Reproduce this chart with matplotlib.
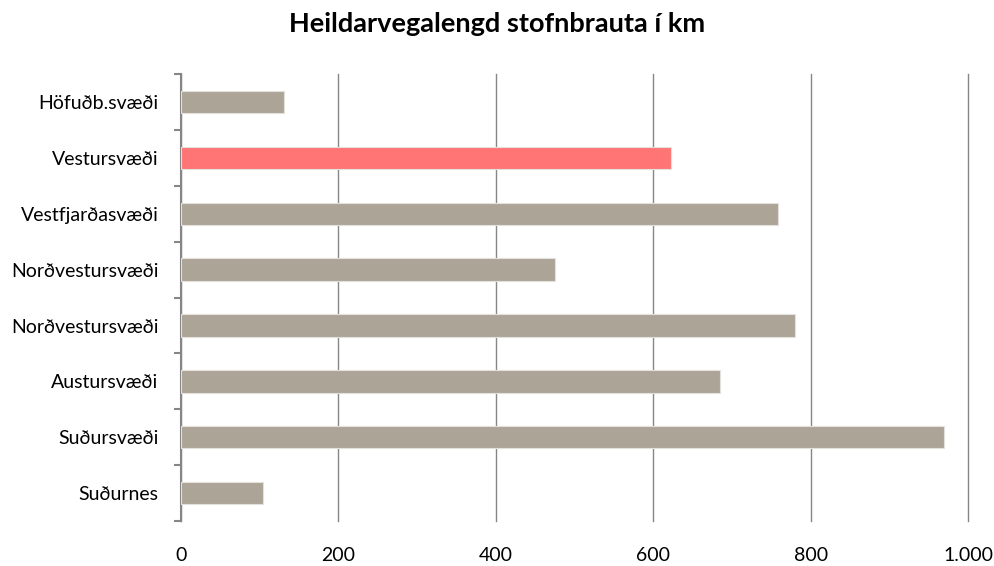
import numpy as np
import matplotlib.pyplot as plt
from matplotlib.ticker import FuncFormatter

plt.rcParams['font.family'] = ['Lato', 'DejaVu Sans']

# Svæði og vegalengdir (km)
svaedi = ['Höfuðb.svæði', 'Vestursvæði', 'Vestfjarðasvæði', 'Norðvestursvæði',
          'Norðvestursvæði', 'Austursvæði', 'Suðursvæði', 'Suðurnes']
vegalengd = [131, 622, 758, 475, 780, 685, 969, 104]
litir = ['#aba497', '#ff7575', '#aba497', '#aba497',
         '#aba497', '#aba497', '#aba497', '#aba497']

fig = plt.figure(figsize=(9.94, 5.66), dpi=100)
ax = fig.add_axes([0.182, 0.0795, 0.792, 0.7895])

y = np.arange(len(svaedi))
ax.barh(y, vegalengd, height=0.4, color=litir, edgecolor='#e4e1dc', linewidth=0.8, zorder=3)

ax.set_xlim(0, 1000)
ax.set_ylim(len(svaedi) - 0.5, -0.5)
ax.set_xticks(np.arange(0, 1001, 200))
ax.xaxis.set_major_formatter(FuncFormatter(lambda v, p: f'{int(v):,}'.replace(',', '.')))
ax.grid(axis='x', color='#868686', linewidth=1, zorder=0)
for lina in ax.xaxis.get_gridlines():
    lina.set_clip_on(False)

ax.set_yticks(y)
ax.set_yticklabels(svaedi)
ax.set_yticks(np.arange(-0.5, len(svaedi)), minor=True)
ax.tick_params(axis='y', which='major', length=0, pad=16, labelsize=14)
ax.tick_params(axis='y', which='minor', length=5, width=1.5, color='#868686')
ax.tick_params(axis='x', length=0, pad=19, labelsize=14)

for s in ['top', 'right', 'bottom']:
    ax.spines[s].set_visible(False)
ax.spines['left'].set_color('#868686')
ax.spines['left'].set_linewidth(1.5)

fig.suptitle('Heildarvegalengd stofnbrauta í km', fontsize=19.5, fontweight='bold', y=0.978)

fig.savefig('out.png', dpi=100)
